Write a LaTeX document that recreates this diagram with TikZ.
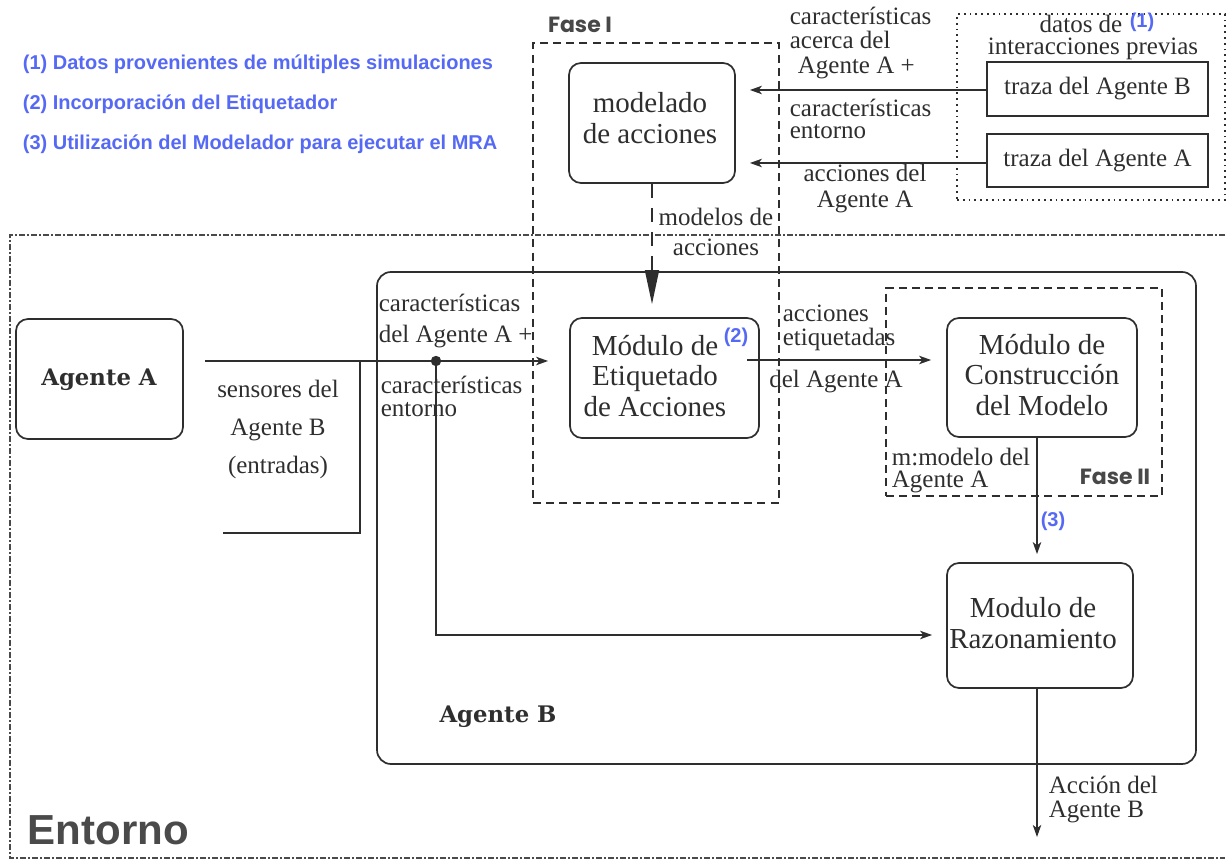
\documentclass[tikz,border=0pt]{standalone}
\usepackage{fontspec}
\setmainfont{Liberation Serif}
\newfontfamily\notefont{Liberation Sans}
\newfontfamily\slabfont{DejaVu Serif}
\newfontfamily\geofont{Poppins}
\usetikzlibrary{arrows.meta}

\definecolor{ink}{HTML}{2E2E2E}
\definecolor{note}{RGB}{85,105,245}
\definecolor{fasecol}{HTML}{484848}
\definecolor{envcol}{HTML}{4A4A4A}

\begin{document}
\begin{tikzpicture}[x=0.5pt,y=-0.5pt, color=ink, line width=0.85pt,
  box/.style={draw, rounded corners=6pt, inner sep=0pt, align=center},
  plainbox/.style={draw, inner sep=0pt, align=center},
  boxtext/.style={inner sep=0pt, align=center, font=\fontsize{14.5}{15.2}\selectfont},
  smalltext/.style={inner sep=0pt, font=\fontsize{12.5}{12.5}\selectfont},
  lbl/.style={inner sep=0pt, align=left},
  notetag/.style={inner sep=0pt, text=note, font=\notefont\bfseries\fontsize{10}{12}\selectfont},
  legend/.style={inner sep=0pt, anchor=west, text=note, font=\notefont\bfseries\fontsize{10}{12}\selectfont},
  fasetag/.style={inner sep=0pt, text=fasecol, font=\geofont\bfseries\fontsize{11}{12}\selectfont},
  phase/.style={draw, inner sep=0pt, dash pattern=on 4pt off 2.6pt, line width=0.75pt},
  agenttag/.style={inner sep=0pt, font=\slabfont\bfseries\fontsize{11.4}{12}\selectfont},
  flow/.style={-{Stealth[length=6pt,width=4.2pt,inset=1.6pt]}},
  bigflow/.style={-{Triangle[length=17pt,width=7pt]}, dash pattern=on 7pt off 5pt},
]
\useasboundingbox (0,0) rectangle (1227,865);

% ---- legend ----
\node[legend] (leg1) at (22,64) {(1) Datos provenientes de múltiples simulaciones};
\node[legend] (leg2) at (22,104) {(2) Incorporación del Etiquetador};
\node[legend] (leg3) at (22,144) {(3) Utilización del Modelador para ejecutar el MRA};

% ---- environment frame ----
\draw[envcol, line width=0.6pt, dash pattern=on 3pt off 1.2pt on 0.6pt off 1.2pt]
  (1225,235) -- (10,235) -- (10,858) -- (1225,858);
\node[inner sep=0pt, anchor=west, text=envcol, font=\notefont\bfseries\fontsize{21}{24}\selectfont] (entorno) at (27,830) {Entorno};

% ---- phase I ----
\node[phase, minimum width=123pt, minimum height=230pt] (faseI) at (656,273) {};
\node[fasetag] (faseIlbl) at (580,25) {Fase I};
\node[box, minimum width=83pt, minimum height=60pt] (modelado) at (652,123) {};
\node[boxtext] (modeladoTxt) at (650,118) {modelado\\de acciones};

% ---- previous interaction data ----
\node[draw, dotted, line width=0.9pt, inner sep=0pt, minimum width=134pt, minimum height=93pt] (datos) at (1091,107) {};
\node[smalltext, anchor=base] (datosTxt) at (1081,33) {datos de};
\node[notetag] (tag1) at (1142,22) {(1)};
\node[smalltext, anchor=base] (previasTxt) at (1093,55) {interacciones previas};
\node[plainbox, minimum width=110.5pt, minimum height=27pt, smalltext] (trazaB) at (1097.5,89) {traza del Agente B};
\node[plainbox, minimum width=110.5pt, minimum height=26.5pt, smalltext] (trazaA) at (1097.5,160.5) {traza del Agente A};

\draw[flow, shorten >=7pt] (trazaB.west |- 0,90) -- (modelado.east |- 0,90);
\draw[flow, shorten >=7pt] (trazaA.west |- 0,163) -- (modelado.east |- 0,163);

\node[lbl, smalltext, anchor=west, font=\fontsize{12.5}{12.3}\selectfont] (caractAB) at (789,43) {características\\acerca del\\\hspace*{4pt}Agente A +};
\node[lbl, smalltext, anchor=west, font=\fontsize{12.5}{11}\selectfont] (entornoAB) at (789,119) {características\\entorno};
\node[smalltext, align=center, font=\fontsize{12.5}{13}\selectfont] (accionesA) at (865,189) {acciones del\\Agente A};

% ---- agent B ----
\node[draw, rounded corners=7pt, inner sep=0pt, minimum width=409.5pt, minimum height=246pt] (agenteB) at (786.5,518) {};
\node[agenttag] (agenteBlbl) at (498,717) {Agente B};

% ---- agent A and its sensors ----
\node[box, minimum width=83.5pt, minimum height=60pt] (agenteA) at (99.5,379) {};
\node[agenttag] (agenteAlbl) at (99,380) {Agente A};

\coordinate (sensIn) at (205,361);
\coordinate (sensCorner) at (360,361);
\coordinate (sensLow) at (360,533);
\coordinate (sensEnd) at (223,533);
\draw (sensCorner) -- (sensLow) -- (sensEnd);
\node[smalltext, align=center, font=\fontsize{12.5}{19}\selectfont] (sensores) at (278,429) {sensores del\\Agente B\\(entradas)};

% ---- labelling module ----
\node[box, minimum width=94.5pt, minimum height=60pt] (etiq) at (664.5,378) {};
\node[boxtext] (etiqTxt) at (655,376) {Módulo de\\Etiquetado\\de Acciones};
\node[notetag] (tag2) at (736,337) {(2)};

\coordinate (junction) at (436,361);
\draw[flow, shorten >=10.5pt] (sensIn) -- (sensIn -| etiq.west);
\fill (junction) circle (2.6pt);

\node[lbl, smalltext, anchor=west, font=\fontsize{12.5}{15.5}\selectfont] (caractIn) at (378,321) {características\\del Agente A +};
\node[lbl, smalltext, anchor=west, font=\fontsize{12.5}{11.5}\selectfont] (entornoIn) at (380,396) {características\\entorno};

% ---- model building (phase II) ----
\node[phase, minimum width=138pt, minimum height=104pt] (faseII) at (1024,392) {};
\node[fasetag] (faseIIlbl) at (1115,477) {Fase II};
\node[box, minimum width=95pt, minimum height=59.5pt] (constr) at (1042,377.5) {};
\node[boxtext] (constrTxt) at (1042,375) {Módulo de\\Construcción\\del Modelo};

\coordinate (etiqOut) at (747,360);
\draw[flow, shorten >=7.5pt] (etiqOut) -- (etiqOut -| constr.west);
\node[lbl, smalltext, anchor=west, font=\fontsize{12.5}{12}\selectfont] (etiqLbl) at (782,328) {acciones\\etiquetadas};
\node[smalltext] (etiqLbl2) at (836,382) {del Agente A};

% ---- models from phase I ----
\draw[bigflow, shorten >=6.5pt] (modelado.south) -- (modelado.south |- etiq.north);
\node[smalltext, align=center, font=\fontsize{12.5}{15}\selectfont] (modelosLbl) at (716,232) {modelos de\\acciones};

% ---- reasoning module ----
\node[box, minimum width=93pt, minimum height=62.5pt] (razon) at (1040,625.5) {};
\node[boxtext] (razonTxt) at (1033,623) {Modulo de\\Razonamiento};

\coordinate (mOut) at (1037,437);
\draw[flow, shorten >=4pt] (mOut) -- (mOut |- razon.north);
\node[lbl, smalltext, anchor=west, font=\fontsize{12.5}{11}\selectfont] (mLbl) at (891,471) {m:modelo del\\Agente A};
\node[notetag] (tag3) at (1053,521) {(3)};

\coordinate (turn) at (436,635);
\draw[flow, shorten >=7pt] (junction) -- (turn) -- (turn -| razon.west);

\coordinate (actEnd) at (1037,837);
\draw[flow] (actEnd |- razon.south) -- (actEnd);
\node[lbl, smalltext, anchor=west, font=\fontsize{12.5}{12}\selectfont] (actLbl) at (1048,800) {Acción del\\Agente B};

\end{tikzpicture}
\end{document}
